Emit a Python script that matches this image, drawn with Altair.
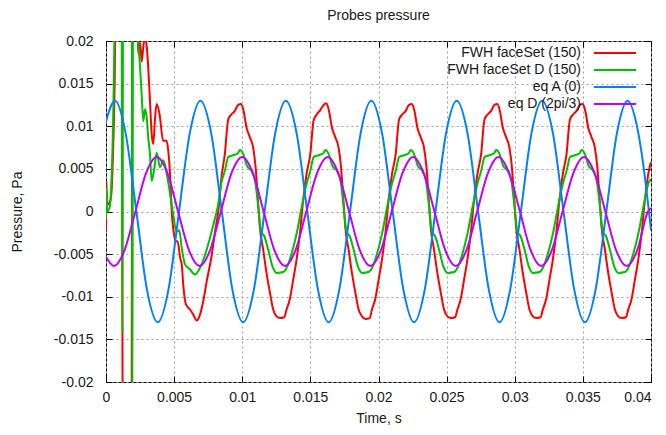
import altair as alt
import pandas as pd

# ---------------- axis ticks ----------------
x_ticks = [0, 0.005, 0.01, 0.015, 0.02, 0.025, 0.03, 0.035, 0.04]
y_ticks = [-0.02, -0.015, -0.01, -0.005, 0, 0.005, 0.01, 0.015, 0.02]

series_names = ["FWH faceSet (150)", "FWH faceSet D (150)", "eq A (0)", "eq D (2pi/3)"]
series_colors = ["#ff0000", "#00c000", "#0080ff", "#c000ff"]

# ---------------- FWH faceSet (150) : red ----------------
red_t = [
    0.0, 0.00003, 0.00008, 0.0003, 0.0004, 0.0005, 0.00058, 0.00064, 0.0007,
    0.00118, 0.00122, 0.00188, 0.00192, 0.0023, 0.00237, 0.0025, 0.00262,
    0.00275, 0.00286, 0.00298, 0.0031, 0.00323, 0.00335, 0.00347, 0.0036,
    0.00372, 0.00394, 0.00419, 0.00445, 0.00457, 0.0047, 0.00483, 0.00495,
    0.0051, 0.00525, 0.00545, 0.00556, 0.00567, 0.00587, 0.00617, 0.00641,
    0.00666, 0.0069, 0.00714, 0.00739, 0.00776, 0.008, 0.00824, 0.00849,
    0.00872, 0.00897, 0.00921, 0.00946, 0.0097, 0.0099, 0.01007, 0.01032, 0.01056,
    0.0108, 0.01098, 0.01117, 0.01129, 0.01154, 0.01178, 0.01203, 0.01227, 0.01252,
    0.01276, 0.01308, 0.01325, 0.01349, 0.01374, 0.01398, 0.01423, 0.01447, 0.01472,
    0.01499, 0.01524, 0.01548, 0.01573, 0.01597, 0.01617, 0.01634, 0.01659, 0.01683,
    0.01707, 0.01725, 0.01744, 0.01756, 0.01781, 0.01805, 0.0183, 0.01854, 0.01879,
    0.01903, 0.01935, 0.01952, 0.01976, 0.02001, 0.02025, 0.0205, 0.02074, 0.02099,
    0.02126, 0.02151, 0.02175, 0.022, 0.02224, 0.02244, 0.02261, 0.02286, 0.0231,
    0.02334, 0.02352, 0.02371, 0.02383, 0.02408, 0.02432, 0.02457, 0.02481, 0.02506,
    0.0253, 0.02562, 0.02579, 0.02603, 0.02628, 0.02652, 0.02677, 0.02701, 0.02726,
    0.02753, 0.02778, 0.02802, 0.02827, 0.02851, 0.02871, 0.02888, 0.02913, 0.02937,
    0.02961, 0.02979, 0.02998, 0.0301, 0.03035, 0.03059, 0.03084, 0.03108, 0.03133,
    0.03157, 0.03189, 0.03206, 0.0323, 0.03255, 0.03279, 0.03304, 0.03328, 0.03353,
    0.0338, 0.03405, 0.03429, 0.03454, 0.03478, 0.03498, 0.03515, 0.0354, 0.03564,
    0.03588, 0.03606, 0.03625, 0.03637, 0.03662, 0.03686, 0.03711, 0.03735, 0.0376,
    0.03784, 0.03816, 0.03833, 0.03857, 0.03882, 0.03906, 0.03931, 0.03955, 0.0398,
    0.04,
]
red_p = [
    -0.0022, 0.0035, 0.0008, 0.0012, 0.0022, 0.006, 0.0105, 0.0155, 0.024,
    0.024, -0.024, -0.024, 0.024, 0.0215, 0.0185, 0.0198, 0.0176,
    0.0195, 0.0205, 0.0195, 0.0169, 0.0129, 0.0091, 0.0079, 0.011,
    0.0126, 0.0113, 0.0083, 0.0083, 0.0071, 0.0044, -0.0002, -0.0022,
    -0.0035, -0.0035, -0.0055, -0.0062, -0.0086, -0.0109, -0.0115, -0.0121,
    -0.0128, -0.0121, -0.0105, -0.0082, -0.0051, -0.0024, 0.0, 0.0042,
    0.0067, 0.0108, 0.0114, 0.0118, 0.0125, 0.0126, 0.012, 0.0098, 0.0087,
    0.0075, 0.0052, 0.0009, -0.0018, -0.0045, -0.0072, -0.0095, -0.0115, -0.0123,
    -0.0125, -0.0124, -0.0115, -0.0103, -0.008, -0.0057, -0.0026, 0.0013, 0.0044,
    0.0067, 0.0107, 0.0114, 0.0119, 0.0125, 0.0127, 0.012, 0.0098, 0.0087,
    0.0075, 0.0052, 0.0009, -0.0018, -0.0045, -0.0072, -0.0095, -0.0115, -0.0123,
    -0.0126, -0.0125, -0.0115, -0.0103, -0.008, -0.0057, -0.0026, 0.0013, 0.0044,
    0.0067, 0.0108, 0.0114, 0.0118, 0.0125, 0.0126, 0.012, 0.0098, 0.0087,
    0.0075, 0.0052, 0.0009, -0.0018, -0.0045, -0.0072, -0.0095, -0.0115, -0.0123,
    -0.0125, -0.0124, -0.0115, -0.0103, -0.008, -0.0057, -0.0026, 0.0013, 0.0044,
    0.0067, 0.0108, 0.0114, 0.0118, 0.0125, 0.0126, 0.012, 0.0098, 0.0087,
    0.0075, 0.0052, 0.0009, -0.0018, -0.0045, -0.0072, -0.0095, -0.0115, -0.0123,
    -0.0125, -0.0124, -0.0115, -0.0103, -0.008, -0.0057, -0.0026, 0.0013, 0.0044,
    0.0067, 0.0108, 0.0114, 0.0118, 0.0125, 0.0126, 0.012, 0.0098, 0.0087,
    0.0075, 0.0052, 0.0009, -0.0018, -0.0045, -0.0072, -0.0095, -0.0115, -0.0123,
    -0.0125, -0.0124, -0.0115, -0.0103, -0.008, -0.0057, -0.0026, 0.0013, 0.0044,
    0.0058,
]

# ---------------- FWH faceSet D (150) : green ----------------
green_t = [
    0.0, 0.00003, 0.00008, 0.0002, 0.0003, 0.0004, 0.00048, 0.00055, 0.0006, 0.00066,
    0.00115, 0.0012, 0.00125, 0.0019, 0.00194, 0.00198, 0.00213, 0.00235, 0.0025, 0.00262,
    0.00274, 0.00286, 0.00299, 0.0031, 0.00323, 0.00335, 0.00352, 0.00372, 0.00396, 0.00421,
    0.00446, 0.0047, 0.0049, 0.00519, 0.00538, 0.00556, 0.0058, 0.00617, 0.00653, 0.0069,
    0.00727, 0.00763, 0.008, 0.00822,
    0.00846, 0.00873, 0.00898, 0.00934, 0.00966, 0.00983, 0.01008, 0.01033, 0.01069, 0.01094,
    0.01118, 0.01138, 0.01162, 0.01191, 0.01221, 0.01253, 0.01301, 0.01326, 0.01363, 0.01399,
    0.01436, 0.01473,
    0.015, 0.01525, 0.01561, 0.01593, 0.0161, 0.01635, 0.0166, 0.01696, 0.01721, 0.01745,
    0.01765, 0.01789, 0.01818, 0.01848, 0.0188, 0.01928, 0.01953, 0.0199, 0.02026, 0.02063, 0.021,
    0.02127, 0.02152, 0.02188, 0.0222, 0.02237, 0.02262, 0.02287, 0.02323, 0.02348, 0.02372,
    0.02392, 0.02416, 0.02445, 0.02475, 0.02507, 0.02555, 0.0258, 0.02617, 0.02653, 0.0269, 0.02727,
    0.02754, 0.02779, 0.02815, 0.02847, 0.02864, 0.02889, 0.02914, 0.0295, 0.02975, 0.02999,
    0.03019, 0.03043, 0.03072, 0.03102, 0.03134, 0.03182, 0.03207, 0.03244, 0.0328, 0.03317, 0.03354,
    0.03381, 0.03406, 0.03442, 0.03474, 0.03491, 0.03516, 0.03541, 0.03577, 0.03602, 0.03626,
    0.03646, 0.0367, 0.03699, 0.03729, 0.03761, 0.03809, 0.03834, 0.03871, 0.03907, 0.03944, 0.03981,
    0.04,
]
green_p = [
    -0.0008, 0.0027, 0.0, 0.0002, 0.0008, 0.0036, 0.0075, 0.013, 0.0185, 0.024,
    0.024, -0.0142, 0.024, 0.024, -0.024, 0.024, 0.022, 0.02, 0.0169, 0.0137,
    0.0106, 0.012, 0.011, 0.0087, 0.0067, 0.0036, 0.0048, 0.0069, 0.0052, 0.006,
    0.0044, 0.0021, 0.0, -0.0024, -0.0022, -0.0043, -0.0062, -0.0068, -0.0074, -0.0066,
    -0.0051, -0.0031, -0.0008, 0.0007,
    0.0033, 0.0048, 0.0064, 0.0066, 0.0068, 0.0072, 0.0067, 0.0054, 0.0047, 0.0036,
    0.0005, -0.0024, -0.0029, -0.0045, -0.0064, -0.0072, -0.0071, -0.0066, -0.0049, -0.0026,
    0.0005, 0.0033,
    0.0048, 0.0064, 0.0066, 0.0068, 0.0072, 0.0067, 0.0054, 0.0047, 0.0036, 0.0005,
    -0.0024, -0.0029, -0.0045, -0.0064, -0.0072, -0.0071, -0.0066, -0.0049, -0.0026, 0.0005, 0.0033,
    0.0048, 0.0064, 0.0066, 0.0068, 0.0072, 0.0067, 0.0054, 0.0047, 0.0036, 0.0005,
    -0.0024, -0.0029, -0.0045, -0.0064, -0.0072, -0.0071, -0.0066, -0.0049, -0.0026, 0.0005, 0.0033,
    0.0048, 0.0064, 0.0066, 0.0068, 0.0072, 0.0067, 0.0054, 0.0047, 0.0036, 0.0005,
    -0.0024, -0.0029, -0.0045, -0.0064, -0.0072, -0.0071, -0.0066, -0.0049, -0.0026, 0.0005, 0.0033,
    0.0048, 0.0064, 0.0066, 0.0068, 0.0072, 0.0067, 0.0054, 0.0047, 0.0036, 0.0005,
    -0.0024, -0.0029, -0.0045, -0.0064, -0.0072, -0.0071, -0.0066, -0.0049, -0.0026, 0.0005, 0.0033,
    0.0038,
]

# ---------------- eq A (0) : blue ----------------
blue_t = [
    0.0, 0.00066, 0.00144, 0.00223, 0.00301, 0.0038, 0.00458, 0.00536, 0.00615,
    0.00693, 0.00772, 0.0085, 0.00928, 0.01007, 0.01085, 0.01164, 0.01242,
    0.0132, 0.01399, 0.01477, 0.01556, 0.01634, 0.01712, 0.01791, 0.01869,
    0.01947, 0.02026, 0.02104, 0.02183, 0.02261, 0.02339, 0.02418, 0.02496,
    0.02574, 0.02653, 0.02731, 0.0281, 0.02888, 0.02966, 0.03045, 0.03123,
    0.03201, 0.0328, 0.03358, 0.03437, 0.03515, 0.03593, 0.03672, 0.0375,
    0.03828, 0.03907, 0.03985, 0.04,
]
blue_p = [
    0.0106, 0.013, 0.0092, 0.0, -0.0092, -0.013, -0.0092, 0.0, 0.0092,
    0.013, 0.0092, 0.0, -0.0092, -0.013, -0.0092, 0.0, 0.0092,
    0.013, 0.0092, 0.0, -0.0092, -0.013, -0.0092, 0.0, 0.0092,
    0.013, 0.0092, 0.0, -0.0092, -0.013, -0.0092, 0.0, 0.0092,
    0.013, 0.0092, 0.0, -0.0092, -0.013, -0.0092, 0.0, 0.0092,
    0.013, 0.0092, 0.0, -0.0092, -0.013, -0.0092, 0.0, 0.0092,
    0.013, 0.0092, 0.0, -0.0022,
]

# ---------------- eq D (2pi/3) : magenta ----------------
mag_t = [
    0.0, 0.00059, 0.00137, 0.00216, 0.00294, 0.00373, 0.00451, 0.00529, 0.00608,
    0.00686, 0.00765, 0.00843, 0.00921, 0.01, 0.01078, 0.01157, 0.01235,
    0.01313, 0.01392, 0.0147, 0.01549, 0.01627, 0.01705, 0.01784, 0.01862,
    0.0194, 0.02019, 0.02097, 0.02176, 0.02254, 0.02332, 0.02411, 0.02489,
    0.02567, 0.02646, 0.02724, 0.02803, 0.02881, 0.02959, 0.03038, 0.03116,
    0.03194, 0.03273, 0.03351, 0.0343, 0.03508, 0.03586, 0.03665, 0.03743,
    0.03821, 0.039, 0.03978, 0.04,
]
mag_p = [
    -0.0053, -0.0064, -0.0045, 0.0, 0.0045, 0.0064, 0.0045, 0.0, -0.0045,
    -0.0064, -0.0045, 0.0, 0.0045, 0.0064, 0.0045, 0.0, -0.0045,
    -0.0064, -0.0045, 0.0, 0.0045, 0.0064, 0.0045, 0.0, -0.0045,
    -0.0064, -0.0045, 0.0, 0.0045, 0.0064, 0.0045, 0.0, -0.0045,
    -0.0064, -0.0045, 0.0, 0.0045, 0.0064, 0.0045, 0.0, -0.0045,
    -0.0064, -0.0045, 0.0, 0.0045, 0.0064, 0.0045, 0.0, -0.0045,
    -0.0064, -0.0045, 0.0, 0.0004,
]

# ---------------- build table ----------------
rows = []
for name, ts, ps in zip(series_names, [red_t, green_t, blue_t, mag_t],
                        [red_p, green_p, blue_p, mag_p]):
    assert len(ts) == len(ps), (name, len(ts), len(ps))
    rows += [{"series": name, "t": t, "p": p} for t, p in zip(ts, ps)]
df = pd.DataFrame(rows)
tick_df = pd.DataFrame({"t": x_ticks, "p": y_ticks})

FONT = "Liberation Sans"
TXT = "#1a1a1a"
FRAME = "#000000"
W, H = 545, 341

xscale = alt.Scale(domain=[0, 0.04], nice=False, zero=False)
yscale = alt.Scale(domain=[-0.02, 0.02], nice=False, zero=False)
lbl = "'' + datum.value"

lines = alt.Chart(df).mark_line(clip=True, strokeWidth=2, interpolate="monotone").encode(
    x=alt.X("t:Q", scale=xscale,
            axis=alt.Axis(orient="bottom", values=x_ticks, labelExpr=lbl, title="Time, s",
                          grid=True, ticks=False, tickSize=0, domain=False,
                          labelFlush=False,
                          labelAlign=alt.condition("datum.value >= 0.039",
                                                   alt.value("right"), alt.value("center")),
                          labelPadding=8, titlePadding=7)),
    y=alt.Y("p:Q", scale=yscale,
            axis=alt.Axis(orient="left", values=y_ticks, labelExpr=lbl, title="Pressure, Pa",
                          grid=True, ticks=False, tickSize=0, domain=False,
                          labelPadding=13, titlePadding=29)),
    color=alt.Color("series:N", sort=series_names,
                    scale=alt.Scale(domain=series_names, range=series_colors),
                    legend=alt.Legend(title=None, orient="none", legendX=461, legendY=5,
                                      direction="vertical", symbolType="M4,0H12.4",
                                      symbolSize=100, symbolStrokeWidth=2, symbolOffset=0,
                                      labelAlign="right", labelOffset=0, labelFont=FONT,
                                      labelFontSize=14, labelColor=TXT, rowPadding=3,
                                      padding=0, labelLimit=400)),
)


def tick_layer(xo, yo):
    return alt.Chart(tick_df).mark_point(opacity=0, size=1).encode(
        x=alt.X("t:Q", scale=xscale,
                axis=alt.Axis(orient=xo, offset=-H, values=x_ticks, labels=False, title=None,
                              grid=False, domain=False, ticks=True, tickSize=6, tickWidth=1,
                              tickColor=FRAME)),
        y=alt.Y("p:Q", scale=yscale,
                axis=alt.Axis(orient=yo, offset=-W, values=y_ticks, labels=False, title=None,
                              grid=False, domain=False, ticks=True, tickSize=6, tickWidth=1,
                              tickColor=FRAME)),
    )


chart = alt.layer(
    lines, tick_layer("top", "right"), tick_layer("bottom", "left")
).resolve_axis(
    x="independent", y="independent"
).properties(
    width=W, height=H,
    background="white",
    autosize=alt.AutoSizeParams(type="none"),
    padding={"left": 98, "top": 33, "right": 7, "bottom": 45},
    title=alt.Title("Probes pressure", font=FONT, fontSize=14, fontWeight="normal",
                    color=TXT, anchor="middle", frame="group", offset=11),
).configure_axis(
    labelFont=FONT, labelFontSize=14, labelColor=TXT,
    titleFont=FONT, titleFontSize=14, titleFontWeight="normal", titleColor=TXT,
    gridColor="#a0a0a0", gridDash=[2, 3], gridWidth=1, gridOpacity=1,
).configure_view(
    stroke=FRAME, strokeWidth=1, fill="white"
)

chart.save("out.html", embed_options={"renderer": "svg", "actions": False})
